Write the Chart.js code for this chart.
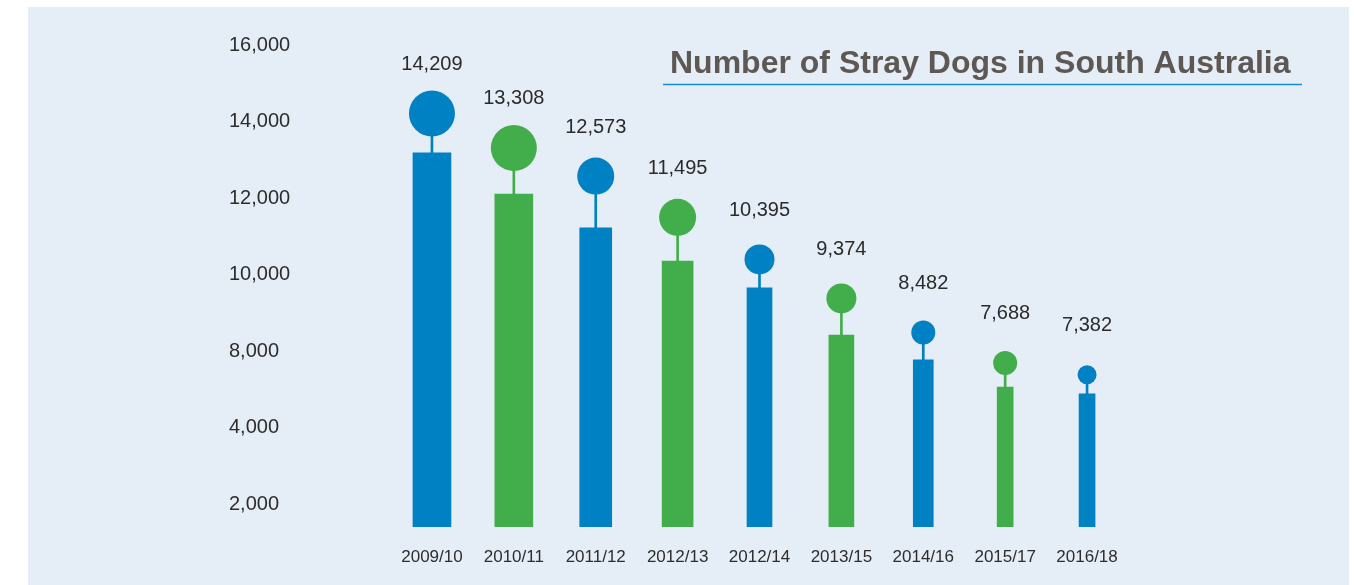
<!DOCTYPE html>
<html>
<head>
<meta charset="utf-8">
<title>Number of Stray Dogs in South Australia</title>
<script src="https://cdn.jsdelivr.net/npm/chart.js@4.4.0/dist/chart.umd.min.js"></script>
<style>
  html, body { margin: 0; padding: 0; background: #fff; }
  #wrap { position: relative; width: 1354px; height: 585px; }
  #panel { position: absolute; left: 28px; top: 7px; width: 1321px; height: 578px; background: #e5edf7; }
  #chart { position: absolute; left: 0; top: 0; }
</style>
</head>
<body>
<div id="wrap">
  <div id="panel"></div>
  <canvas id="chart" width="1354" height="585"></canvas>
</div>
<script>
var years = ["2009/10", "2010/11", "2011/12", "2012/13", "2012/14", "2013/15", "2014/16", "2015/17", "2016/18"];
var strayDogs = [14209, 13308, 12573, 11495, 10395, 9374, 8482, 7688, 7382];
// where each bar stops, read against the axis (the bars end below the dots)
var barTops = [13180, 12100, 11220, 10350, 9650, 8420, 7770, 7060, 6880];
var yTickLabels = ["16,000", "14,000", "12,000", "10,000", "8,000", "4,000", "2,000"];

var blue = '#0081c4', green = '#42ae4b';
var colours = years.map(function (y, i) { return i % 2 === 0 ? blue : green; });
var barWidths = [38, 38, 32, 31, 25, 25, 20, 16, 16];
var dotRadius = [23, 23, 18.5, 18.5, 15, 15, 12, 12, 9.5];

Chart.defaults.font.family = '"Liberation Sans", Arial, sans-serif';
Chart.defaults.color = '#2d2d2d';

var datasets = [];
// the dots
datasets.push({
  type: 'line',
  data: strayDogs,
  showLine: false,
  pointRadius: dotRadius,
  pointHoverRadius: dotRadius,
  pointBackgroundColor: colours,
  pointBorderWidth: 0,
  clip: false,
  order: 0
});
// thin stems from bar to dot
datasets.push({
  type: 'bar',
  data: strayDogs.map(function (v, i) { return [barTops[i], v]; }),
  backgroundColor: colours,
  barThickness: 2,
  grouped: false,
  order: 1
});
// one dataset per bar so each gets its own width
years.forEach(function (y, i) {
  datasets.push({
    type: 'bar',
    data: barTops.map(function (v, j) { return j === i ? v : null; }),
    backgroundColor: colours[i],
    barThickness: barWidths[i],
    grouped: false,
    order: 2
  });
});

var extras = {
  id: 'extras',
  afterDatasetsDraw: function (chart) {
    var ctx = chart.ctx;
    var meta = chart.getDatasetMeta(0);
    ctx.save();
    ctx.font = '20px "Liberation Sans", Arial, sans-serif';
    ctx.fillStyle = '#2b2b2b';
    ctx.textAlign = 'center';
    ctx.textBaseline = 'middle';
    meta.data.forEach(function (pt, i) {
      ctx.fillText(strayDogs[i].toLocaleString('en-US'), pt.x, pt.y - 49);
    });

    ctx.font = 'bold 32px "Liberation Sans", Arial, sans-serif';
    ctx.fillStyle = '#5d5854';
    ctx.textAlign = 'left';
    ctx.textBaseline = 'alphabetic';
    ctx.fillText('Number of Stray Dogs in South Australia', 670, 73);
    ctx.strokeStyle = '#1a8bd5';
    ctx.lineWidth = 1.5;
    ctx.beginPath();
    ctx.moveTo(663, 84.5);
    ctx.lineTo(1302, 84.5);
    ctx.stroke();
    ctx.restore();
  }
};

new Chart(document.getElementById('chart'), {
  type: 'bar',
  data: { labels: years, datasets: datasets },
  options: {
    responsive: false,
    animation: false,
    layout: { padding: { left: 229, right: 226, top: 45, bottom: 0 } },
    plugins: { legend: { display: false }, tooltip: { enabled: false } },
    scales: {
      x: {
        grid: { display: false, drawTicks: false },
        border: { display: false },
        ticks: { padding: 20, font: { size: 17 }, maxRotation: 0, autoSkip: false },
        afterFit: function (scale) { scale.height = 58; }
      },
      y: {
        min: 3400,
        max: 16000,
        grid: { display: false, drawTicks: false },
        border: { display: false },
        afterBuildTicks: function (scale) {
          // one tick per label, every 2,000 down from the top
          scale.ticks = yTickLabels.map(function (t, k) { return { value: 16000 - k * 2000 }; });
        },
        ticks: {
          padding: 0,
          crossAlign: 'far',
          autoSkip: false,
          font: { size: 20 },
          callback: function (value) {
            return yTickLabels[(16000 - value) / 2000];
          }
        },
        afterFit: function (scale) { scale.width = 162; }
      }
    }
  },
  plugins: [extras]
});
</script>
</body>
</html>
